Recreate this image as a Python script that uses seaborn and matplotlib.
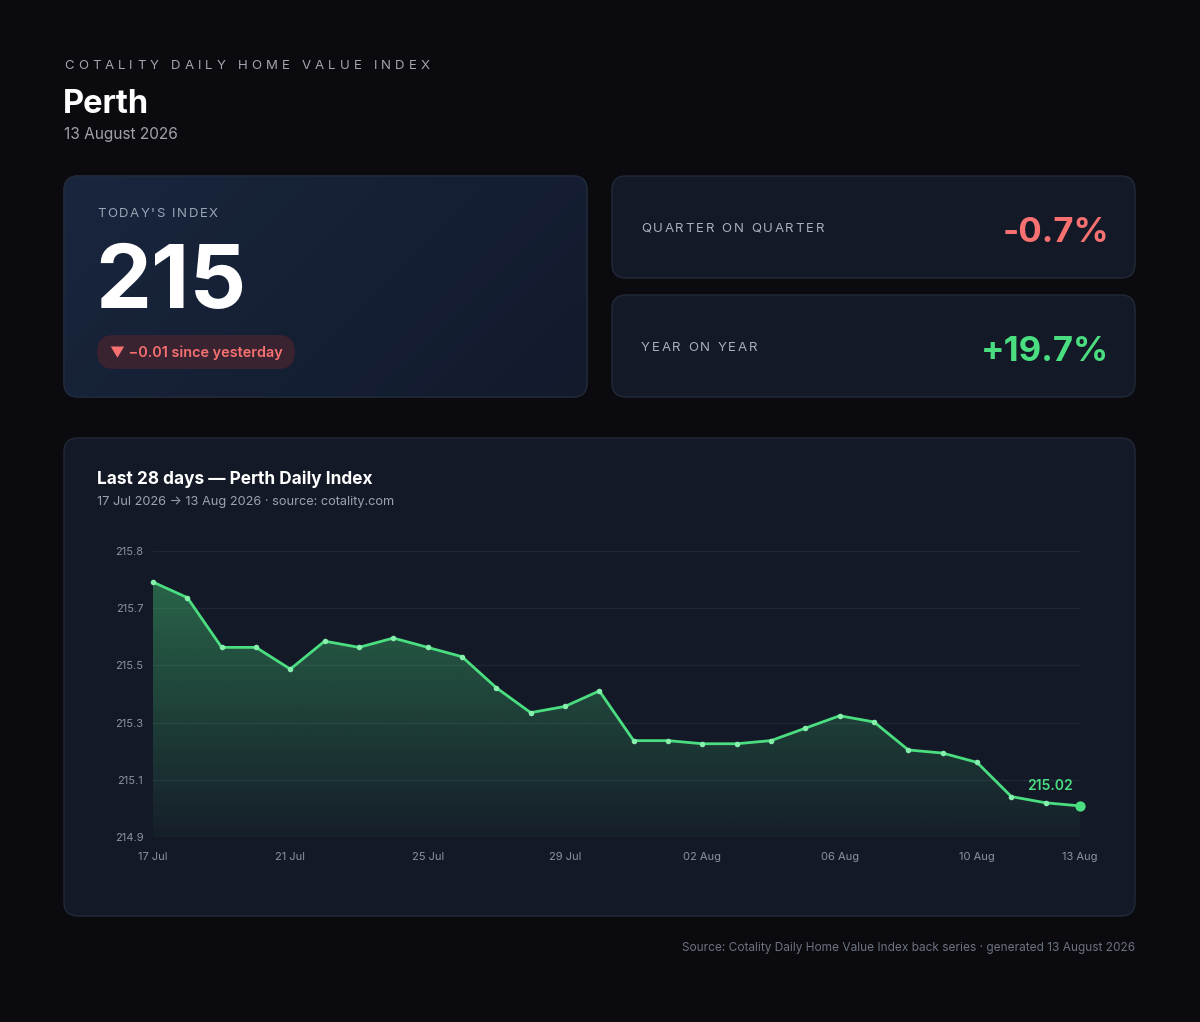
import numpy as np
import pandas as pd
import matplotlib
matplotlib.use("Agg")
import matplotlib.pyplot as plt
import matplotlib.dates as mdates
import seaborn as sns
from matplotlib.patches import FancyBboxPatch, PathPatch

# data
dates = pd.date_range("2026-07-17", "2026-08-13", freq="D")
index_values = [215.74, 215.69, 215.53, 215.53, 215.46, 215.55, 215.53, 215.56,
                215.53, 215.50, 215.40, 215.32, 215.34, 215.39, 215.23, 215.23,
                215.22, 215.22, 215.23, 215.27, 215.31, 215.29, 215.20, 215.19,
                215.16, 215.05, 215.03, 215.02]
tick_dates = ["2026-07-17", "2026-07-21", "2026-07-25", "2026-07-29",
              "2026-08-02", "2026-08-06", "2026-08-10", "2026-08-13"]
tick_labels = ["17 Jul", "21 Jul", "25 Jul", "29 Jul", "02 Aug", "06 Aug", "10 Aug", "13 Aug"]
today_index = "215"
day_change = "\u25bc \u22120.01 since yesterday"
kpi_labels = ["QUARTER ON QUARTER", "YEAR ON YEAR"]
kpi_values = ["-0.7%", "+19.7%"]

BG = "#0b0b0f"
CARD = "#141927"
BORDER = "#222a39"
GREEN = "#4ade80"
RED = "#f87171"
W, H = 1200, 1022

sns.set_style("dark")
plt.rcParams["font.family"] = ["Inter", "DejaVu Sans"]

fig = plt.figure(figsize=(W / 100, H / 100), dpi=100, facecolor=BG)
bg = fig.add_axes([0, 0, 1, 1])
bg.set_xlim(0, W)
bg.set_ylim(H, 0)
bg.axis("off")
renderer = fig.canvas.get_renderer()


def card(x, y, w, h, color=CARD):
    p = FancyBboxPatch((x, y), w, h, boxstyle="round,pad=0,rounding_size=14",
                       facecolor=color, edgecolor=BORDER, lw=1)
    bg.add_patch(p)
    return p


def tracked(x, y, s, width, size, color):
    # spaced-out caps labels: letter by letter across a given pixel width
    items = []
    for ch in s:
        t = bg.text(0, y, ch, fontsize=size, color=color, va="baseline", zorder=5)
        w = size * 100 / 72 * 0.3 if ch == " " else t.get_window_extent(renderer).width
        items.append((t, w))
    gap = (width - sum(w for _, w in items)) / max(len(items) - 1, 1)
    for t, w in items:
        t.set_x(x)
        x += w + gap


def label(x, y, s, size, color, weight="normal", ha="left"):
    bg.text(x, y, s, fontsize=size, color=color, weight=weight, ha=ha,
            va="baseline", zorder=5)


# header
tracked(64, 69, "COTALITY DAILY HOME VALUE INDEX", 366, 9.5, "#a3a6b0")
label(63, 113, "Perth", 23.5, "white", weight="bold")
label(64, 139, "13 August 2026", 11.1, "#a1a1aa")

# today's index card with soft gradient
p = card(64, 176, 523, 221, "#16203a")
grad = np.linspace(0, 1, 200)
gx, gy = np.meshgrid(grad, grad)
mix = (gx * 0.7 + gy * 0.3)[..., None]
c0 = np.array([0x19, 0x26, 0x3e]) / 255
c1 = np.array([0x12, 0x1a, 0x2c]) / 255
img = c0 * (1 - mix) + c1 * mix
im = bg.imshow(img, extent=[64, 587, 397, 176], aspect="auto", zorder=1)
im.set_clip_path(p)
p2 = FancyBboxPatch((64, 176), 523, 221, boxstyle="round,pad=0,rounding_size=14",
                    facecolor="none", edgecolor=BORDER, lw=1, zorder=2)
bg.add_patch(p2)
tracked(97, 217, "TODAY'S INDEX", 121, 9.5, "#9aa5b5")
label(95, 308, today_index, 64, "white", weight="bold")
pill = FancyBboxPatch((97, 335), 198, 34, boxstyle="round,pad=0,rounding_size=17",
                      facecolor="#3a2330", edgecolor="none", zorder=3)
bg.add_patch(pill)
label(110, 357, day_change, 10.4, RED, weight="semibold")

# KPI cards
for i, (lab, val) in enumerate(zip(kpi_labels, kpi_values)):
    y0 = 176 + i * 119
    card(612, y0, 523, 102)
    tracked(641, y0 + 56, lab, [183, 116][i], 9.5, "#a8b0bc")
    label(1109, y0 + 66, val, 25, RED if val.startswith("-") else GREEN,
          weight="bold", ha="right")

# chart card
card(64, 438, 1071, 478)
label(97, 484, "Last 28 days \u2014 Perth Daily Index", 12.4, "white", weight="bold")
label(97, 505, "17 Jul 2026 \u2192 13 Aug 2026 \u00b7 source: cotality.com", 9.2, "#9ca3af")
label(1135, 951, "Source: Cotality Daily Home Value Index back series \u00b7 generated 13 August 2026",
      8.55, "#6b7280", ha="right")

# line chart
ax = fig.add_axes([153 / W, 1 - 837 / H, 927 / W, 286 / H])
ax.patch.set_visible(False)
df = pd.DataFrame({"date": dates, "index": index_values})
ymin, ymax = min(index_values) - 0.1, max(index_values) + 0.1

sns.lineplot(data=df, x="date", y="index", ax=ax, color=GREEN, lw=2, zorder=4,
             marker="o", markersize=4, markeredgewidth=0, markerfacecolor="#86efac",
             clip_on=False)

xnum = mdates.date2num(df["date"])
poly = ax.fill_between(xnum, index_values, ymin, color="none", lw=0)
clip = PathPatch(poly.get_paths()[0], transform=ax.transData, facecolor="none", edgecolor="none")
ax.add_patch(clip)
alpha = np.linspace(0.38, 0.03, 256)
rgba = np.zeros((256, 1, 4))
rgba[..., :3] = matplotlib.colors.to_rgb(GREEN)
rgba[:, 0, 3] = alpha
gim = ax.imshow(rgba, extent=[xnum[0], xnum[-1], ymin, max(index_values)],
                aspect="auto", origin="upper", zorder=2)
gim.set_clip_path(clip)

ax.scatter([xnum[-1]], [index_values[-1]], s=55, color=GREEN, zorder=6, lw=0, clip_on=False)
ax.annotate(f"{index_values[-1]:.2f}", (xnum[-1], index_values[-1]), xytext=(-5, 9),
            textcoords="offset points", ha="right", va="bottom", color=GREEN,
            fontsize=10, weight="semibold")

ax.set_xlim(xnum[0], xnum[-1])
ax.set_ylim(ymin, ymax)
yt = np.linspace(ymin, ymax, 6)
ax.set_yticks(yt)
ax.set_yticklabels([f"{v:.1f}" for v in yt])
ax.set_xticks(mdates.date2num(pd.to_datetime(tick_dates)))
ax.set_xticklabels(tick_labels)
ax.grid(axis="y", color="#1f2636", lw=1)
ax.grid(axis="x", visible=False)
ax.tick_params(length=0, labelsize=8, labelcolor="#8b93a1", pad=7)
ax.tick_params(axis="x", pad=10.5)
ax.set_xlabel("")
ax.set_ylabel("")
for s in ax.spines.values():
    s.set_visible(False)

fig.savefig("out.png", dpi=100, facecolor=BG)
